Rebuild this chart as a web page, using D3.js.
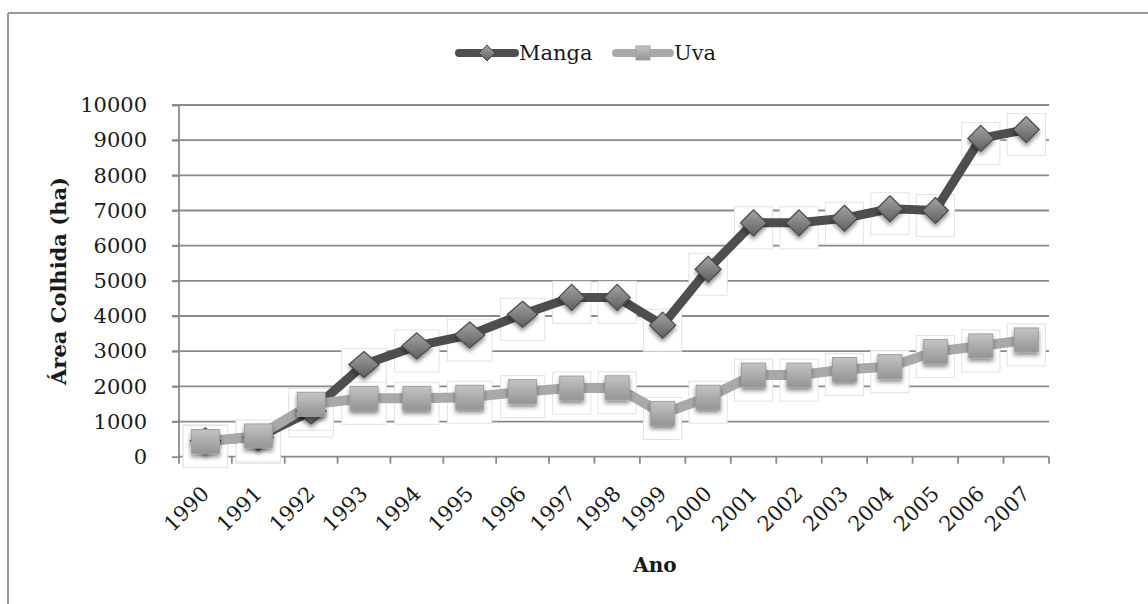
<!DOCTYPE html>
<html>
<head>
<meta charset="utf-8">
<script src="https://cdn.jsdelivr.net/npm/d3@7"></script>
<style>
  html, body { margin: 0; padding: 0; background: #fff; }
  svg { display: block; }
  text { font-family: "DejaVu Serif", serif; fill: #1a1a1a; }
</style>
</head>
<body>
<svg id="chart" width="1148" height="604"></svg>
<script>
// ---- data ----
const years = ["1990","1991","1992","1993","1994","1995","1996","1997","1998","1999",
               "2000","2001","2002","2003","2004","2005","2006","2007"];
const manga = [450, 550, 1300, 2620, 3150, 3460, 4050, 4530, 4530, 3740,
               5330, 6650, 6650, 6780, 7050, 7000, 9050, 9300];
const uva   = [430, 590, 1490, 1660, 1660, 1690, 1850, 1950, 1960, 1230,
               1690, 2320, 2320, 2480, 2560, 2990, 3150, 3320];
const yTicks = [0, 1000, 2000, 3000, 4000, 5000, 6000, 7000, 8000, 9000, 10000];
const seriesNames = ["Manga", "Uva"];

// ---- layout ----
const svg = d3.select("#chart");
const x = d3.scaleLinear().domain([0, 7, years.length]).range([179, 549, 1049]);
const y = d3.scaleLinear().domain([0, 10000]).range([456.7, 105]);
const cx = i => x(i + 0.5);
const localBand = i => x(i + 1) - x(i);
const baseBand = 45.45;

const defs = svg.append("defs");
const sh = defs.append("filter").attr("id", "shadow").attr("x", "-50%").attr("y", "-50%").attr("width", "200%").attr("height", "200%");
sh.append("feDropShadow").attr("dx", 0).attr("dy", 3).attr("stdDeviation", 2).attr("flood-color", "#000").attr("flood-opacity", 0.45);
const gD = defs.append("linearGradient").attr("id", "gDiamond").attr("x1", 0).attr("y1", 0).attr("x2", 0).attr("y2", 1);
gD.append("stop").attr("offset", "0%").attr("stop-color", "#a4a4a4");
gD.append("stop").attr("offset", "100%").attr("stop-color", "#5f5f5f");
const gS = defs.append("linearGradient").attr("id", "gSquare").attr("x1", 0).attr("y1", 0).attr("x2", 0).attr("y2", 1);
gS.append("stop").attr("offset", "0%").attr("stop-color", "#c4c4c4");
gS.append("stop").attr("offset", "100%").attr("stop-color", "#949494");

// outer frame (top and left only)
svg.append("line").attr("x1", 8).attr("x2", 1148).attr("y1", 13).attr("y2", 13).attr("stroke", "#9a9a9a").attr("stroke-width", 2);
svg.append("line").attr("x1", 8).attr("x2", 8).attr("y1", 13).attr("y2", 604).attr("stroke", "#9a9a9a").attr("stroke-width", 2);

// gridlines
svg.append("g").selectAll("line").data(yTicks.filter(d => d > 0)).join("line")
  .attr("x1", 172).attr("x2", x(years.length))
  .attr("y1", d => y(d)).attr("y2", d => y(d))
  .attr("stroke", "#8a8a8a").attr("stroke-width", 1.8);

// y axis
const yAxis = d3.axisLeft(y).tickValues(yTicks).tickSize(7).tickPadding(25).tickFormat(d3.format("d"));
const gy = svg.append("g").attr("transform", `translate(${x(0)},0)`).call(yAxis);
gy.select(".domain").attr("stroke", "#8a8a8a").attr("stroke-width", 1.8).attr("d", `M-7,${y(10000)}H0V${y(0)}`);
gy.selectAll(".tick line").attr("stroke", "#8a8a8a").attr("stroke-width", 1.8);
gy.selectAll(".tick text").attr("font-size", 21).attr("font-family", "DejaVu Serif").attr("fill", "#1a1a1a");

// x axis
const idx = d3.range(years.length + 1);
const gx = svg.append("g");
gx.append("line").attr("x1", x(0)).attr("x2", x(years.length)).attr("y1", y(0)).attr("y2", y(0))
  .attr("stroke", "#8a8a8a").attr("stroke-width", 1.8);
gx.selectAll("line.tk").data(idx).join("line").attr("class", "tk")
  .attr("x1", d => x(d)).attr("x2", d => x(d)).attr("y1", y(0)).attr("y2", y(0) + 7)
  .attr("stroke", "#8a8a8a").attr("stroke-width", 1.8);
gx.selectAll("text").data(years).join("text")
  .attr("transform", (d, i) => `translate(${cx(i) + 5},495) rotate(-45)`)
  .attr("text-anchor", "end").attr("font-size", 21).text(d => d);

// faint boxes around markers (cover gridlines)
function boxes(vals) {
  svg.append("g").selectAll("rect").data(vals).join("rect")
    .attr("x", (d, i) => cx(i) - localBand(i) * 0.42)
    .attr("width", (d, i) => localBand(i) * 0.84)
    .attr("y", d => y(d) - 16).attr("height", 42)
    .attr("fill", "#fff").attr("stroke", "#e2e2e2").attr("stroke-width", 1);
}
boxes(manga);
boxes(uva);

// lines
const line = d3.line().x((d, i) => cx(i)).y(d => y(d));
svg.append("path").datum(manga).attr("d", line).attr("fill", "none")
  .attr("stroke", "#4e4e4e").attr("stroke-width", 9);
svg.append("path").datum(uva).attr("d", line).attr("fill", "none")
  .attr("stroke", "#a9a9a9").attr("stroke-width", 10);

// markers
function diamond(sx, h) { return `M0,${-h}L${h * sx},0L0,${h}L${-h * sx},0Z`; }
svg.append("g").selectAll("path").data(manga).join("path")
  .attr("transform", (d, i) => `translate(${cx(i)},${y(d)})`)
  .attr("d", (d, i) => diamond(localBand(i) / baseBand, 13))
  .attr("fill", "url(#gDiamond)").attr("stroke", "#4a4a4a").attr("stroke-width", 1.2)
  .attr("filter", "url(#shadow)");
svg.append("g").selectAll("rect").data(uva).join("rect")
  .attr("x", (d, i) => cx(i) - 12 * localBand(i) / baseBand)
  .attr("width", (d, i) => 24 * localBand(i) / baseBand)
  .attr("y", d => y(d) - 12).attr("height", 24)
  .attr("fill", "url(#gSquare)").attr("stroke", "#a0a0a0").attr("stroke-width", 1)
  .attr("filter", "url(#shadow)");

// legend
const lg = svg.append("g");
lg.append("line").attr("x1", 459).attr("x2", 515).attr("y1", 53).attr("y2", 53)
  .attr("stroke", "#4e4e4e").attr("stroke-width", 8).attr("stroke-linecap", "round");
lg.append("path").attr("transform", "translate(487,53)").attr("d", diamond(1, 8))
  .attr("fill", "url(#gDiamond)").attr("stroke", "#4a4a4a").attr("stroke-width", 1);
lg.append("text").attr("x", 519).attr("y", 60).attr("font-size", 21).text(seriesNames[0]);
lg.append("line").attr("x1", 616).attr("x2", 670).attr("y1", 53).attr("y2", 53)
  .attr("stroke", "#a9a9a9").attr("stroke-width", 8).attr("stroke-linecap", "round");
lg.append("rect").attr("x", 636).attr("y", 46).attr("width", 14).attr("height", 14)
  .attr("fill", "url(#gSquare)").attr("stroke", "#a0a0a0");
lg.append("text").attr("x", 674).attr("y", 60).attr("font-size", 21).text(seriesNames[1]);

// axis titles
svg.append("text").attr("transform", "translate(58,281) rotate(-90)")
  .attr("text-anchor", "middle").attr("dominant-baseline", "central")
  .attr("font-size", 21).attr("font-weight", "bold")
  .text("Área Colhida (ha)");
svg.append("text").attr("x", 655).attr("y", 572).attr("text-anchor", "middle")
  .attr("font-size", 20).attr("font-weight", "bold").text("Ano");
</script>
</body>
</html>
